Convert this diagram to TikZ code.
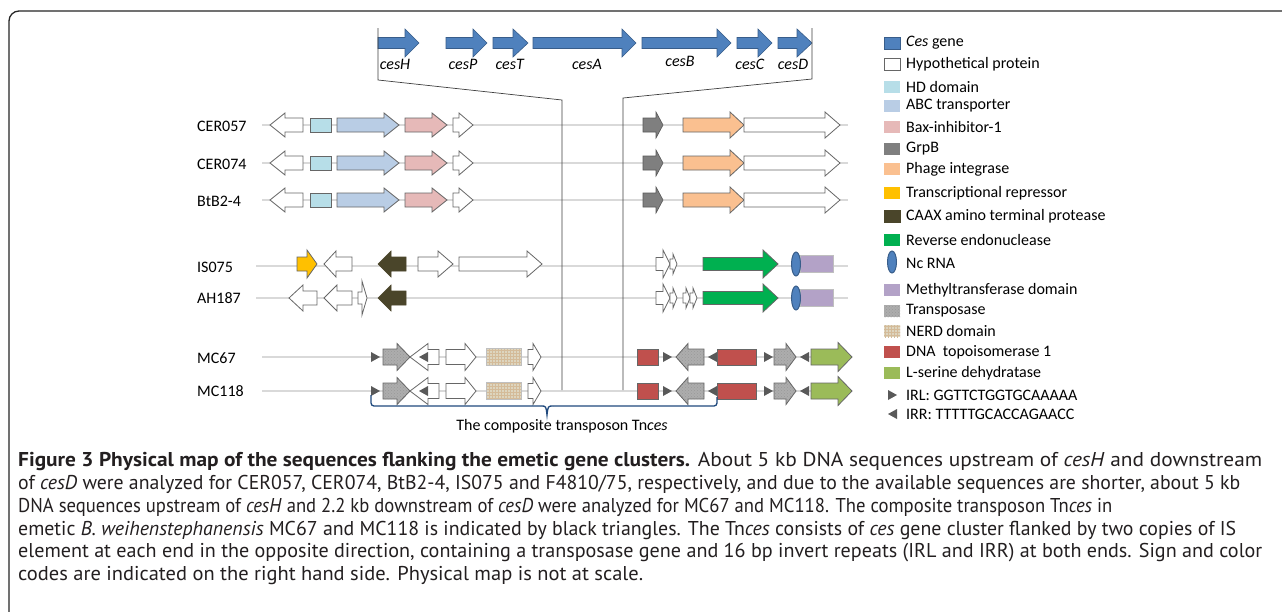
\documentclass[tikz,border=0pt]{standalone}
\usepackage{fontspec}
\usepackage{graphicx}
\setmainfont{Carlito}
\newfontfamily\capfont{PT Sans}
\usetikzlibrary{patterns}

\definecolor{cesblue}{HTML}{4F81BD}
\definecolor{cesedge}{HTML}{385D8A}
\definecolor{hdcol}{HTML}{B7DEE8}
\definecolor{abccol}{HTML}{B9CDE5}
\definecolor{baxcol}{HTML}{E6B9B8}
\definecolor{grpcol}{HTML}{7F7F7F}
\definecolor{phagecol}{HTML}{FAC090}
\definecolor{repcol}{HTML}{FFC000}
\definecolor{caaxcol}{HTML}{4A452A}
\definecolor{endocol}{HTML}{00B050}
\definecolor{methcol}{HTML}{B3A2C7}
\definecolor{tnpcol}{HTML}{ADADAD}
\definecolor{nerdcol}{HTML}{DDD5BF}
\definecolor{topocol}{HTML}{C0504D}
\definecolor{sercol}{HTML}{9BBB59}
\definecolor{ircol}{HTML}{595959}
\definecolor{bracecol}{HTML}{1F497D}
\definecolor{captext}{HTML}{231F20}

\tikzset{
	rowline/.style={draw=black!15, line width=1.2pt},
	linkline/.style={draw=black!75, line width=0.7pt},
	outline/.style={draw=black!60, line width=0.8pt},
	cesgene/.style={fill=cesblue, draw=cesedge, line width=0.6pt},
	hypo/.style={outline, fill=white},
	hdbox/.style={outline, fill=hdcol},
	abc/.style={outline, fill=abccol},
	bax/.style={outline, fill=baxcol},
	grpb/.style={draw=black!65, fill=grpcol, line width=0.6pt},
	phage/.style={outline, fill=phagecol},
	repressor/.style={outline, fill=repcol},
	caax/.style={draw=caaxcol, fill=caaxcol, line width=0.6pt},
	revendo/.style={outline, fill=endocol},
	ncrna/.style={draw=cesedge, fill=cesblue, line width=1pt},
	methyl/.style={draw=black!25, fill=methcol, line width=0.6pt},
	tnpase/.style={outline, preaction={fill=tnpcol}, pattern=crosshatch dots, pattern color=black!40},
	nerd/.style={draw=black!25, preaction={fill=nerdcol}, pattern=grid, pattern color=nerdcol!70!brown, line width=0.6pt},
	topo/.style={outline, fill=topocol},
	serine/.style={outline, fill=sercol},
	captionline/.style={anchor=west, text=captext, font=\capfont\fontsize{20}{24}\selectfont},
}

% arrow: style, y, start, head base, tip, body half, head half
\newcommand{\gene}[7]{\draw[#1] (#3,#2-#6) -- (#4,#2-#6) -- (#4,#2-#7) -- (#5,#2) -- (#4,#2+#7) -- (#4,#2+#6) -- (#3,#2+#6) -- cycle;}
% domain box: style, y, left, right, half height
\newcommand{\domain}[5]{\draw[#1] (#3,#2-#5) rectangle (#4,#2+#5);}
% inverted repeats: y, left x
\newcommand{\irl}[2]{\fill[ircol] (#2,#1-5) -- (#2+9,#1) -- (#2,#1+5) -- cycle;}
\newcommand{\irr}[2]{\fill[ircol] (#2+9,#1-5) -- (#2,#1) -- (#2+9,#1+5) -- cycle;}
% caption line stretched to its width
\newcommand{\capline}[2]{\resizebox{#1pt}{\height}{#2}}

\begin{document}
\begin{tikzpicture}[x=1pt, y=-1pt, inner sep=0pt]
	\useasboundingbox (0,0) rectangle (1282,611);
	\fill[white] (0,0) rectangle (1282,611);
	\draw[black!85, line width=1.3pt, rounded corners=10pt] (9,640) -- (9,11) -- (1310,11);

	\begin{scope}[every node/.style={font=\fontsize{16}{19}\selectfont}]
	% ces cluster on top
	\gene{cesgene}{43}{378}{405}{419}{5.5}{14}
	\gene{cesgene}{43}{446}{473}{487}{5.5}{14}
	\gene{cesgene}{43}{493}{513}{528}{5.5}{14}
	\gene{cesgene}{43}{533}{622}{636}{5.5}{14}
	\gene{cesgene}{43}{642}{717}{731}{5.5}{14}
	\gene{cesgene}{43}{737}{758}{772}{5.5}{14}
	\gene{cesgene}{43}{778}{797}{812}{5.5}{14}
	\node (cesH) at (395,64) {\textit{cesH}};
	\node (cesP) at (463,64) {\textit{cesP}};
	\node (cesT) at (510,64) {\textit{cesT}};
	\node (cesA) at (587,64) {\textit{cesA}};
	\node (cesB) at (680,61) {\textit{cesB}};
	\node (cesC) at (750,64) {\textit{cesC}};
	\node (cesD) at (793,64) {\textit{cesD}};

	% strain lines
	\draw[rowline] (262,125) -- (848,125);
	\draw[rowline] (262,163) -- (848,163);
	\draw[rowline] (262,200) -- (848,200);
	\draw[rowline] (256,266) -- (848,266);
	\draw[rowline] (256,298) -- (848,298);
	\draw[rowline] (262,357) -- (850,357);
	\draw[rowline] (262,391) -- (850,391);
	\node[anchor=west] (CER057) at (197,126) {CER057};
	\node[anchor=west] (CER074) at (197,164) {CER074};
	\node[anchor=west] (BtB24) at (197,201) {BtB2-4};
	\node[anchor=west] (IS075) at (197,267) {IS075};
	\node[anchor=west] (AH187) at (197,298) {AH187};
	\node[anchor=west] (MC67) at (197,358) {MC67};
	\node[anchor=west] (MC118) at (197,391) {MC118};

	% insertion site
	\draw[linkline] (378,28) -- (378,80) -- (562,100) -- (562,390);
	\draw[linkline] (812,28) -- (812,79) -- (623,98) -- (623,390);

	% CER057, CER074, BtB2-4
	\gene{hypo}{125}{303}{285}{270}{7}{12}
	\domain{hdbox}{125}{310}{331}{7}
	\gene{abc}{125}{337}{384}{399}{7}{12}
	\gene{bax}{125}{405}{432}{447}{7}{12}
	\gene{hypo}{125}{453}{459}{473}{7}{12}
	\gene{grpb}{125}{643}{656}{663}{7}{13}
	\gene{phage}{125}{683}{730}{744}{7}{13}
	\gene{hypo}{125}{744}{825}{840}{7}{13}

	\gene{hypo}{163}{303}{285}{270}{7}{12}
	\domain{hdbox}{163}{310}{331}{7}
	\gene{abc}{163}{337}{384}{399}{7}{12}
	\gene{bax}{163}{405}{432}{447}{7}{12}
	\gene{hypo}{163}{453}{459}{473}{7}{12}
	\gene{grpb}{163}{643}{656}{663}{7}{13}
	\gene{phage}{163}{683}{730}{744}{7}{13}
	\gene{hypo}{163}{744}{825}{840}{7}{13}

	\gene{hypo}{200}{303}{285}{270}{7}{12}
	\domain{hdbox}{200}{310}{331}{7}
	\gene{abc}{200}{337}{384}{399}{7}{12}
	\gene{bax}{200}{405}{432}{447}{7}{12}
	\gene{hypo}{200}{453}{459}{473}{7}{12}
	\gene{grpb}{200}{643}{656}{663}{7}{13}
	\gene{phage}{200}{683}{730}{744}{7}{13}
	\gene{hypo}{200}{744}{825}{840}{7}{13}

	% IS075
	\gene{repressor}{264}{297}{307}{317}{7}{14}
	\gene{hypo}{264}{352}{336}{324}{7}{13}
	\gene{caax}{264}{406}{391}{378}{7}{13}
	\gene{hypo}{264}{418}{438}{453}{7}{13}
	\gene{hypo}{264}{459}{527}{542}{7}{13}
	\gene{hypo}{264}{656}{663}{670}{6.5}{14}
	\gene{hypo}{264}{670}{673}{677}{5}{10}
	\gene{revendo}{264}{703}{763}{778}{6.5}{14}
	\domain{methyl}{264}{800}{833}{8.5}
	\draw[ncrna] (796,264) ellipse (4.5pt and 12pt);

	% AH187
	\gene{hypo}{298}{317}{303}{289}{7}{13}
	\gene{hypo}{298}{352}{337}{324}{7}{13}
	\gene{hypo}{298}{358}{362}{367}{6}{17}
	\gene{caax}{298}{406}{391}{378}{7}{13}
	\gene{hypo}{298}{656}{663}{670}{6.5}{14}
	\gene{hypo}{298}{670}{673}{677}{5}{10}
	\gene{hypo}{298}{683}{686}{690}{5}{10}
	\gene{hypo}{298}{690}{693}{697}{5}{10}
	\gene{revendo}{298}{703}{763}{778}{6.5}{14}
	\domain{methyl}{298}{800}{833}{8.5}
	\draw[ncrna] (796,298) ellipse (4.5pt and 12pt);

	% MC67
	\irl{357}{371}
	\gene{tnpase}{357}{383}{397}{410}{8}{13.5}
	\gene{hypo}{357}{439}{428}{410}{7.5}{13.5}
	\irr{357}{419}
	\gene{hypo}{357}{446}{465}{476}{7.5}{13.5}
	\domain{nerd}{357}{486}{521}{8.5}
	\gene{hypo}{357}{528}{533}{541}{7.5}{13.5}
	\domain{topo}{357}{637}{658}{8}
	\irl{357}{663}
	\gene{tnpase}{357}{704}{688}{676}{8}{13.5}
	\irr{357}{708}
	\domain{topo}{357}{717}{756}{8}
	\irl{357}{764}
	\gene{tnpase}{357}{774}{786}{796}{8}{13.5}
	\irr{357}{800}
	\gene{serine}{357}{811}{838}{852}{8}{14.5}

	% MC118
	\irl{391}{371}
	\gene{tnpase}{391}{383}{397}{410}{8}{13.5}
	\gene{hypo}{391}{439}{428}{410}{7.5}{13.5}
	\irr{391}{419}
	\gene{hypo}{391}{446}{465}{476}{7.5}{13.5}
	\domain{nerd}{391}{486}{521}{8.5}
	\gene{hypo}{391}{528}{533}{541}{7.5}{13.5}
	\domain{topo}{391}{637}{658}{8}
	\irl{391}{663}
	\gene{tnpase}{391}{704}{688}{676}{8}{13.5}
	\irr{391}{708}
	\domain{topo}{391}{717}{756}{8}
	\irl{391}{764}
	\gene{tnpase}{391}{774}{786}{796}{8}{13.5}
	\irr{391}{800}
	\gene{serine}{391}{811}{838}{852}{8}{14.5}

	% Tnces bracket
	\draw[bracecol, line width=1.3pt, rounded corners=3pt] (371,395) -- (371,406) -- (541,406);
	\draw[bracecol, line width=1.3pt] (541,406) .. controls (546,406) .. (547,415) .. controls (548,406) .. (553,406);
	\draw[bracecol, line width=1.3pt, rounded corners=3pt] (553,406) -- (717,406) -- (717,397);
	\node (tnlabel) at (562,426) {The composite transposon Tn\textit{ces}};

	% legend
	\domain{cesgene}{43}{884}{900}{6}
	\domain{hypo}{64}{884}{900}{6}
	\domain{hdbox, draw=none}{87}{884}{900}{6}
	\domain{abc, draw=none}{106}{884}{900}{6}
	\domain{bax, draw=none}{127}{884}{900}{6}
	\domain{grpb, draw=none}{149}{884}{900}{6}
	\domain{phage, draw=none}{169}{884}{900}{6}
	\domain{repressor, draw=none}{193}{884}{900}{6}
	\domain{caax}{216}{884}{900}{6}
	\domain{revendo, draw=none}{240}{884}{900}{6}
	\draw[ncrna] (892,262) ellipse (4.5pt and 11pt);
	\domain{methyl, draw=none}{290}{884}{900}{6}
	\domain{tnpase, draw=none}{311}{884}{900}{6}
	\domain{nerd, draw=none}{331}{884}{900}{6}
	\domain{topo, draw=none}{352}{884}{900}{6}
	\domain{serine, draw=none}{373}{884}{900}{6}
	\irl{395}{888}
	\irr{414}{888}
	\node[anchor=west] (legces) at (906,43) {\textit{Ces} gene};
	\node[anchor=west] (leghyp) at (906,64) {Hypothetical protein};
	\node[anchor=west] (leghd) at (906,87) {HD domain};
	\node[anchor=west] (legabc) at (906,106) {ABC transporter};
	\node[anchor=west] (legbax) at (906,127) {Bax-inhibitor-1};
	\node[anchor=west] (leggrp) at (906,149) {GrpB};
	\node[anchor=west] (legphage) at (906,169) {Phage integrase};
	\node[anchor=west] (legrep) at (906,193) {Transcriptional repressor};
	\node[anchor=west] (legcaax) at (906,216) {CAAX amino terminal protease};
	\node[anchor=west] (legendo) at (906,240) {Reverse endonuclease};
	\node[anchor=west] (legnc) at (906,263) {Nc RNA};
	\node[anchor=west] (legmeth) at (906,290) {Methyltransferase domain};
	\node[anchor=west] (legtnp) at (906,311) {Transposase};
	\node[anchor=west] (legnerd) at (906,331) {NERD domain};
	\node[anchor=west] (legtopo) at (906,352) {DNA~ topoisomerase 1};
	\node[anchor=west] (legser) at (906,373) {L-serine dehydratase};
	\node[anchor=west] (legirl) at (906,395) {IRL: GGTTCTGGTGCAAAAA};
	\node[anchor=west] (legirr) at (906,414) {IRR: TTTTTGCACCAGAACC};
	\end{scope}

	% caption
	\node[captionline] (cap1) at (18,461) {\capline{1244}{\textbf{Figure 3 Physical map of the sequences flanking the emetic gene clusters.} About 5 kb DNA sequences upstream of \textit{cesH} and downstream}};
	\node[captionline] (cap2) at (18,484) {\capline{1222}{of \textit{cesD} were analyzed for CER057, CER074, BtB2-4, IS075 and F4810/75, respectively, and due to the available sequences are shorter, about 5 kb}};
	\node[captionline] (cap3) at (18,507) {\capline{1094}{DNA sequences upstream of \textit{cesH} and 2.2 kb downstream of \textit{cesD} were analyzed for MC67 and MC118. The composite transposon Tn\textit{ces} in}};
	\node[captionline] (cap4) at (18,530) {\capline{1218}{emetic \textit{B. weihenstephanensis} MC67 and MC118 is indicated by black triangles. The Tn\textit{ces} consists of \textit{ces} gene cluster flanked by two copies of IS}};
	\node[captionline] (cap5) at (18,553) {\capline{1244}{element at each end in the opposite direction, containing a transposase gene and 16 bp invert repeats (IRL and IRR) at both ends. Sign and color}};
	\node[captionline] (cap6) at (18,576) {\capline{625}{codes are indicated on the right hand side. Physical map is not at scale.}};
\end{tikzpicture}
\end{document}
